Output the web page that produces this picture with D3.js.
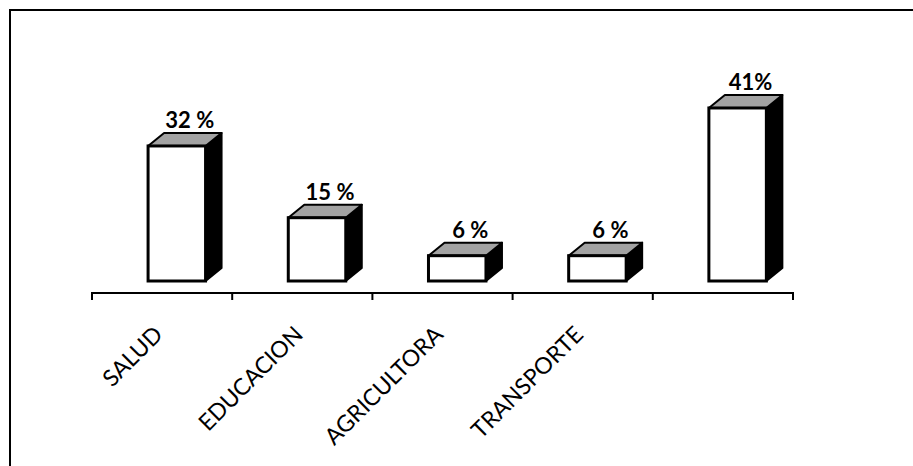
<!DOCTYPE html>
<html>
<head>
<meta charset="utf-8">
<script src="https://cdn.jsdelivr.net/npm/d3@7"></script>
<style>
  body { margin: 0; background: #fff; }
  svg { display: block; }
</style>
</head>
<body>
<div id="chart"></div>
<script>
// data
const categories = ['SALUD', 'EDUCACION', 'AGRICULTORA', 'TRANSPORTE', ''];
const values = [32, 15, 6, 6, 41];
const valueLabels = ['32 %', '15 %', '6 %', '6 %', '41%'];

const width = 913;
const height = 466;
const depthX = 16; // 3d side
const depthY = 13;

const svg = d3.select('#chart')
  .append('svg')
  .attr('width', width)
  .attr('height', height);

// frame (only top and left are visible in the scan)
svg.append('path')
  .attr('d', `M10,${height} L10,10 L${width},10`)
  .attr('fill', 'none')
  .attr('stroke', '#000')
  .attr('stroke-width', 2);

// scales
const x = d3.scaleBand()
  .domain(d3.range(categories.length))
  .range([92, 793])
  .padding(0);

const y = d3.scaleLinear()
  .domain([0, 50])
  .range([281, 70]);

const barW = x.bandwidth() * 0.41;
const barOff = x.bandwidth() * 0.4;

// bars
const bars = svg.append('g')
  .selectAll('g')
  .data(values)
  .join('g');

// side
bars.append('path')
  .attr('d', (d, i) => {
    const x1 = x(i) + barOff + barW;
    return `M${x1},${y(d)} L${x1 + depthX},${y(d) - depthY} L${x1 + depthX},${y(0) - depthY} L${x1},${y(0)} Z`;
  })
  .attr('fill', '#000')
  .attr('stroke', '#000')
  .attr('stroke-width', 2)
  .attr('stroke-linejoin', 'round');

// top
bars.append('path')
  .attr('d', (d, i) => {
    const x0 = x(i) + barOff;
    const x1 = x0 + barW;
    return `M${x0},${y(d)} L${x0 + depthX},${y(d) - depthY} L${x1 + depthX},${y(d) - depthY} L${x1},${y(d)} Z`;
  })
  .attr('fill', '#a3a3a3')
  .attr('stroke', '#000')
  .attr('stroke-width', 2)
  .attr('stroke-linejoin', 'round');

// front
bars.append('rect')
  .attr('x', (d, i) => x(i) + barOff)
  .attr('y', (d) => y(d))
  .attr('width', barW)
  .attr('height', (d) => y(0) - y(d))
  .attr('fill', '#fff')
  .attr('stroke', '#000')
  .attr('stroke-width', 3);

// value labels
bars.append('text')
  .attr('x', (d, i) => x(i) + barOff + barW / 2 + 13)
  .attr('y', (d) => y(d) - depthY - 5)
  .attr('text-anchor', 'middle')
  .attr('font-family', 'Lato, sans-serif')
  .attr('font-weight', 'bold')
  .attr('font-size', 22)
  .attr('fill', '#000')
  .text((d, i) => valueLabels[i]);

// x axis, ticks at category boundaries
const axisY = 293;
const edges = x.domain().map((i) => x(i)).concat([x.range()[1]]);
const axis = svg.append('g');
axis.append('line')
  .attr('x1', x.range()[0])
  .attr('x2', x.range()[1])
  .attr('y1', axisY)
  .attr('y2', axisY)
  .attr('stroke', '#000')
  .attr('stroke-width', 2);
axis.selectAll('line.tick')
  .data(edges)
  .join('line')
  .attr('class', 'tick')
  .attr('x1', (d) => d)
  .attr('x2', (d) => d)
  .attr('y1', axisY - 1)
  .attr('y2', axisY + 7)
  .attr('stroke', '#000')
  .attr('stroke-width', 2);

// category labels, rotated
svg.append('g')
  .selectAll('text')
  .data(categories)
  .join('text')
  .attr('transform', (d, i) => `translate(${x(i) + x.bandwidth() / 2 + 2},${axisY + 43}) rotate(-45)`)
  .attr('text-anchor', 'end')
  .attr('font-family', 'Lato, sans-serif')
  .attr('font-size', 23)
  .attr('fill', '#000')
  .text((d) => d);
</script>
</body>
</html>
